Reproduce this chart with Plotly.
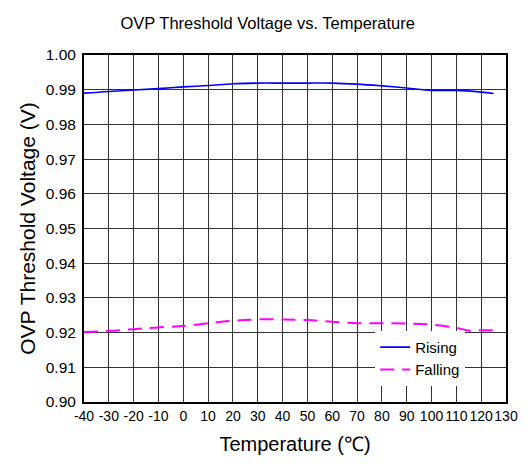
import plotly.graph_objects as go

temps_rising = [-40, -30, -20, -10, 0, 10, 20, 30, 40, 50, 60, 70, 80, 90, 100, 110, 120, 125]
rising = [0.9890, 0.9895, 0.9899, 0.9903, 0.9908, 0.9912, 0.9917, 0.9919, 0.9919, 0.9919,
          0.9919, 0.9916, 0.9911, 0.9905, 0.9898, 0.9898, 0.9893, 0.9889]

temps_falling = [-40, -30, -20, -10, 0, 10, 20, 30, 40, 50, 60, 70, 80, 90, 100, 110, 115, 120, 125]
falling = [0.9202, 0.9205, 0.9210, 0.9215, 0.9219, 0.9227, 0.9234, 0.9238, 0.9238, 0.9236,
           0.9231, 0.9227, 0.9227, 0.9226, 0.9223, 0.9214, 0.9206, 0.9207, 0.9207]

x_ticks = list(range(-40, 131, 10))
y_ticks = [0.90, 0.91, 0.92, 0.93, 0.94, 0.95, 0.96, 0.97, 0.98, 0.99, 1.00]

FONT = "Liberation Sans, Arial, sans-serif"

fig = go.Figure()
fig.add_trace(go.Scatter(x=temps_rising, y=rising, mode="lines", name="Rising",
                         line=dict(color="#0000FF", width=1.6, shape="spline")))
fig.add_trace(go.Scatter(x=temps_falling, y=falling, mode="lines", name="Falling",
                         line=dict(color="#FF00FF", width=2, dash="14px,8px", shape="spline")))

fig.update_layout(
    width=530, height=466,
    margin=dict(l=76, r=32, t=47, b=72),
    paper_bgcolor="white", plot_bgcolor="white",
    font=dict(family=FONT, size=14, color="black"),
    title=dict(text="OVP Threshold Voltage vs. Temperature", x=0.49, xanchor="center",
               yref="container", y=0.968, yanchor="middle", font=dict(size=16.5, color="black")),
    showlegend=True,
    legend=dict(x=0.69, y=0.205, xanchor="left", yanchor="top", bgcolor="white",
                borderwidth=0, font=dict(size=15), tracegroupgap=0),
    xaxis=dict(range=[-40, 130], tickvals=x_ticks, ticktext=[str(t) for t in x_ticks],
               showgrid=True, gridcolor="#333333", gridwidth=1,
               showline=True, linecolor="black", linewidth=2, mirror=True,
               ticks="", zeroline=False, tickfont=dict(size=14), tickangle=0,
               title=dict(text='Temperature (<span style="font-family:Liberation Serif">℃</span>)',
                          font=dict(size=20), standoff=14)),
    yaxis=dict(range=[0.90, 1.00], tickvals=y_ticks, tickformat=".2f",
               showgrid=True, gridcolor="#333333", gridwidth=1,
               showline=True, linecolor="black", linewidth=2, mirror=True,
               ticks="", zeroline=False, tickfont=dict(size=15.5), ticklabelstandoff=3,
               title=dict(text="OVP Threshold Voltage (V)", font=dict(size=21), standoff=4)),
)

fig.write_html("out.html")
